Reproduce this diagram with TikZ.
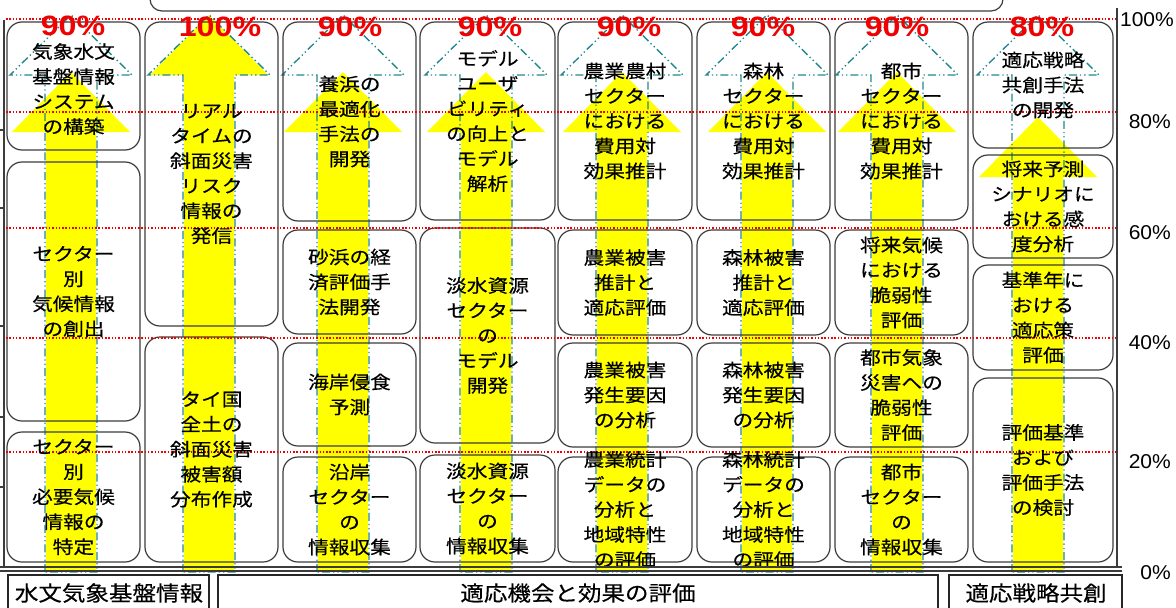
\documentclass[tikz,border=0pt]{standalone}
\usepackage{fontspec}
\newfontfamily\jp[FakeStretch=1.15,FakeBold=0.4]{Noto Sans CJK JP}
\newfontfamily\jpb[FakeStretch=1.12,FakeBold=0.3]{Noto Sans CJK JP}
\newfontfamily\pctf[FakeStretch=1.15]{Liberation Sans}
\newfontfamily\axf[FakeStretch=1.05]{Liberation Sans}
\pgfdeclarelayer{background}
\pgfsetlayers{background,main}
\definecolor{tealc}{RGB}{35,135,140}
\definecolor{boxc}{RGB}{60,60,60}
\definecolor{yel}{RGB}{255,255,0}
\definecolor{redc}{RGB}{240,0,0}
\tikzset{
  box/.style={draw=boxc, line width=1.2pt, rounded corners=15pt, inner sep=0pt, outer sep=0pt},
  txt/.style={font=\jp\fontsize{18}{25}\selectfont, align=center, inner sep=0pt, text=black},
  pct/.style={font=\pctf\bfseries\fontsize{28}{28}\selectfont, text=redc, inner sep=0pt},
  axl/.style={font=\axf\fontsize{20}{20}\selectfont, text=black, inner sep=0pt, anchor=east},
  reddot/.style={draw=redc, line width=1.6pt, dash pattern=on 1.5pt off 1.8pt},
  tealdd/.style={draw=tealc, line width=1.4pt, dash pattern=on 8pt off 3pt on 1.3pt off 3pt on 1.3pt off 3pt},
  axis/.style={draw=boxc, line width=1.2pt},
  lbox/.style={draw=black!85, line width=1.4pt},
  ltxt/.style={font=\jpb\fontsize{21}{21}\selectfont, inner sep=0pt, text=black}
}
\newcommand{\bx}[5]{\node[box, minimum width={#4-#2}, minimum height={#5-#3}] (#1) at ({(#2+#4)/2},{(#3+#5)/2}) {};}
\newcommand{\tx}[2]{\node[txt] (#1t) at (#1.center) {#2};}
\newcommand{\yarr}[2]{\fill[yel] (#1-25,570) -- (#1-25,#2+60) -- (#1-59,#2+60) -- (#1,#2) -- (#1+59,#2+60) -- (#1+25,#2+60) -- (#1+25,570) -- cycle;}
\newcommand{\tarr}[1]{\draw[tealdd] (#1-26,572) -- (#1-26,75) -- (#1-61,75) -- (#1,15) -- (#1+61,75) -- (#1+26,75) -- (#1+26,572) -- cycle;}
\begin{document}
\begin{tikzpicture}[x=1pt,y=-1pt]
\useasboundingbox (0,0) rectangle (1176,608);
\clip (0,0) rectangle (1176,608);
% top partial box
\draw[box, rounded corners=12pt] (150,-30) rectangle (1003,11);
% arrows (background)
\begin{pgfonlayer}{background}
\yarr{71}{72}
\yarr{209}{15}
\yarr{343}{72}
\yarr{486}{72}
\yarr{622}{72}
\yarr{767}{72}
\yarr{897}{72}
\yarr{1038}{117}
\tarr{71}
\tarr{209}
\tarr{343}
\tarr{486}
\tarr{622}
\tarr{767}
\tarr{897}
\tarr{1038}
\end{pgfonlayer}
% boxes
\bx{c1a}{7}{22}{140}{150}
\bx{c1b}{7}{162}{140}{421}
\bx{c1c}{7}{432}{140}{562}
\bx{c2a}{145}{22}{278}{326}
\bx{c2b}{145}{337}{278}{562}
\bx{c3a}{283}{22}{416}{221}
\bx{c3b}{283}{230}{416}{334}
\bx{c3c}{283}{343}{416}{446}
\bx{c3d}{283}{457}{416}{562}
\bx{c4a}{420}{22}{555}{220}
\bx{c4b}{420}{228}{555}{443}
\bx{c4c}{420}{455}{555}{562}
\bx{c5a}{558}{22}{692}{220}
\bx{c5b}{558}{230}{692}{335}
\bx{c5c}{558}{343}{692}{447}
\bx{c5d}{558}{457}{692}{562}
\bx{c6a}{697}{22}{830}{220}
\bx{c6b}{697}{230}{830}{335}
\bx{c6c}{697}{343}{830}{447}
\bx{c6d}{697}{457}{830}{562}
\bx{c7a}{835}{22}{968}{220}
\bx{c7b}{835}{230}{968}{335}
\bx{c7c}{835}{343}{968}{447}
\bx{c7d}{835}{457}{968}{562}
\bx{c8a}{973}{22}{1113}{148}
\bx{c8b}{973}{155}{1113}{258}
\bx{c8c}{973}{265}{1113}{370}
\bx{c8d}{973}{378}{1113}{562}
% red dotted level lines
\draw[reddot] (6,19) -- (1116,19);
\draw[reddot] (6,112) -- (1116,112);
\draw[reddot] (6,228) -- (1116,228);
\draw[reddot] (6,338) -- (1116,338);
\draw[reddot] (6,452) -- (1116,452);
% texts
\node[txt] (c1at) at ([yshift=-3pt]c1a.center) {気象水文\\基盤情報\\システム\\の構築};
\tx{c1b}{セクター\\別\\気候情報\\の創出}
\tx{c1c}{セクター\\別\\必要気候\\情報の\\特定}
\tx{c2a}{リアル\\タイムの\\斜面災害\\リスク\\情報の\\発信}
\tx{c2b}{タイ国\\全土の\\斜面災害\\被害額\\分布作成}
\tx{c3a}{養浜の\\最適化\\手法の\\開発}
\tx{c3b}{砂浜の経\\済評価手\\法開発}
\tx{c3c}{海岸侵食\\予測}
\tx{c3d}{沿岸\\セクター\\の\\情報収集}
\tx{c4a}{モデル\\ユーザ\\ビリティ\\の向上と\\モデル\\解析}
\tx{c4b}{淡水資源\\セクター\\の\\モデル\\開発}
\tx{c4c}{淡水資源\\セクター\\の\\情報収集}
\tx{c5a}{農業農村\\セクター\\における\\費用対\\効果推計}
\tx{c5b}{農業被害\\推計と\\適応評価}
\tx{c5c}{農業被害\\発生要因\\の分析}
\tx{c5d}{農業統計\\データの\\分析と\\地域特性\\の評価}
\tx{c6a}{森林\\セクター\\における\\費用対\\効果推計}
\tx{c6b}{森林被害\\推計と\\適応評価}
\tx{c6c}{森林被害\\発生要因\\の分析}
\tx{c6d}{森林統計\\データの\\分析と\\地域特性\\の評価}
\tx{c7a}{都市\\セクター\\における\\費用対\\効果推計}
\tx{c7b}{将来気候\\における\\脆弱性\\評価}
\tx{c7c}{都市気象\\災害への\\脆弱性\\評価}
\tx{c7d}{都市\\セクター\\の\\情報収集}
\tx{c8a}{適応戦略\\共創手法\\の開発}
\tx{c8b}{将来予測\\シナリオに\\おける感\\度分析}
\tx{c8c}{基準年に\\おける\\適応策\\評価}
\tx{c8d}{評価基準\\および\\評価手法\\の検討}
% percentages
\node[pct] (p1) at (73,26) {90\%};
\node[pct] (p2) at (220,27) {100\%};
\node[pct] (p3) at (350,27) {90\%};
\node[pct] (p4) at (490,27) {90\%};
\node[pct] (p5) at (629,27) {90\%};
\node[pct] (p6) at (763,27) {90\%};
\node[pct] (p7) at (897,27) {90\%};
\node[pct] (p8) at (1042,27) {80\%};
% axes
\draw[axis] (1117,8) -- (1117,568);
\draw[axis] (4,20) -- (4,568);
\foreach \t in {130,208,326,417,487} \draw[axis] (0,\t) -- (4,\t);
\draw[axis] (0,567) -- (1122,567);
\draw[axis] (0,571) -- (1122,571);
\node[axl] (a100) at (1174,20) {100\%};
\node[axl] (a80) at (1171,122) {80\%};
\node[axl] (a60) at (1171,233) {60\%};
\node[axl] (a40) at (1171,343) {40\%};
\node[axl] (a20) at (1171,462) {20\%};
\node[axl] (a0) at (1171,573) {0\%};
% bottom category boxes
\draw[lbox] (8,575) rectangle (209,620);
\draw[lbox] (218,575) rectangle (938,620);
\draw[lbox] (949,575) rectangle (1122,620);
\node[ltxt] (b1) at (109,593) {水文気象基盤情報};
\node[ltxt] (b2) at (578,593) {適応機会と効果の評価};
\node[ltxt] (b3) at (1036,593) {適応戦略共創};
\end{tikzpicture}
\end{document}
